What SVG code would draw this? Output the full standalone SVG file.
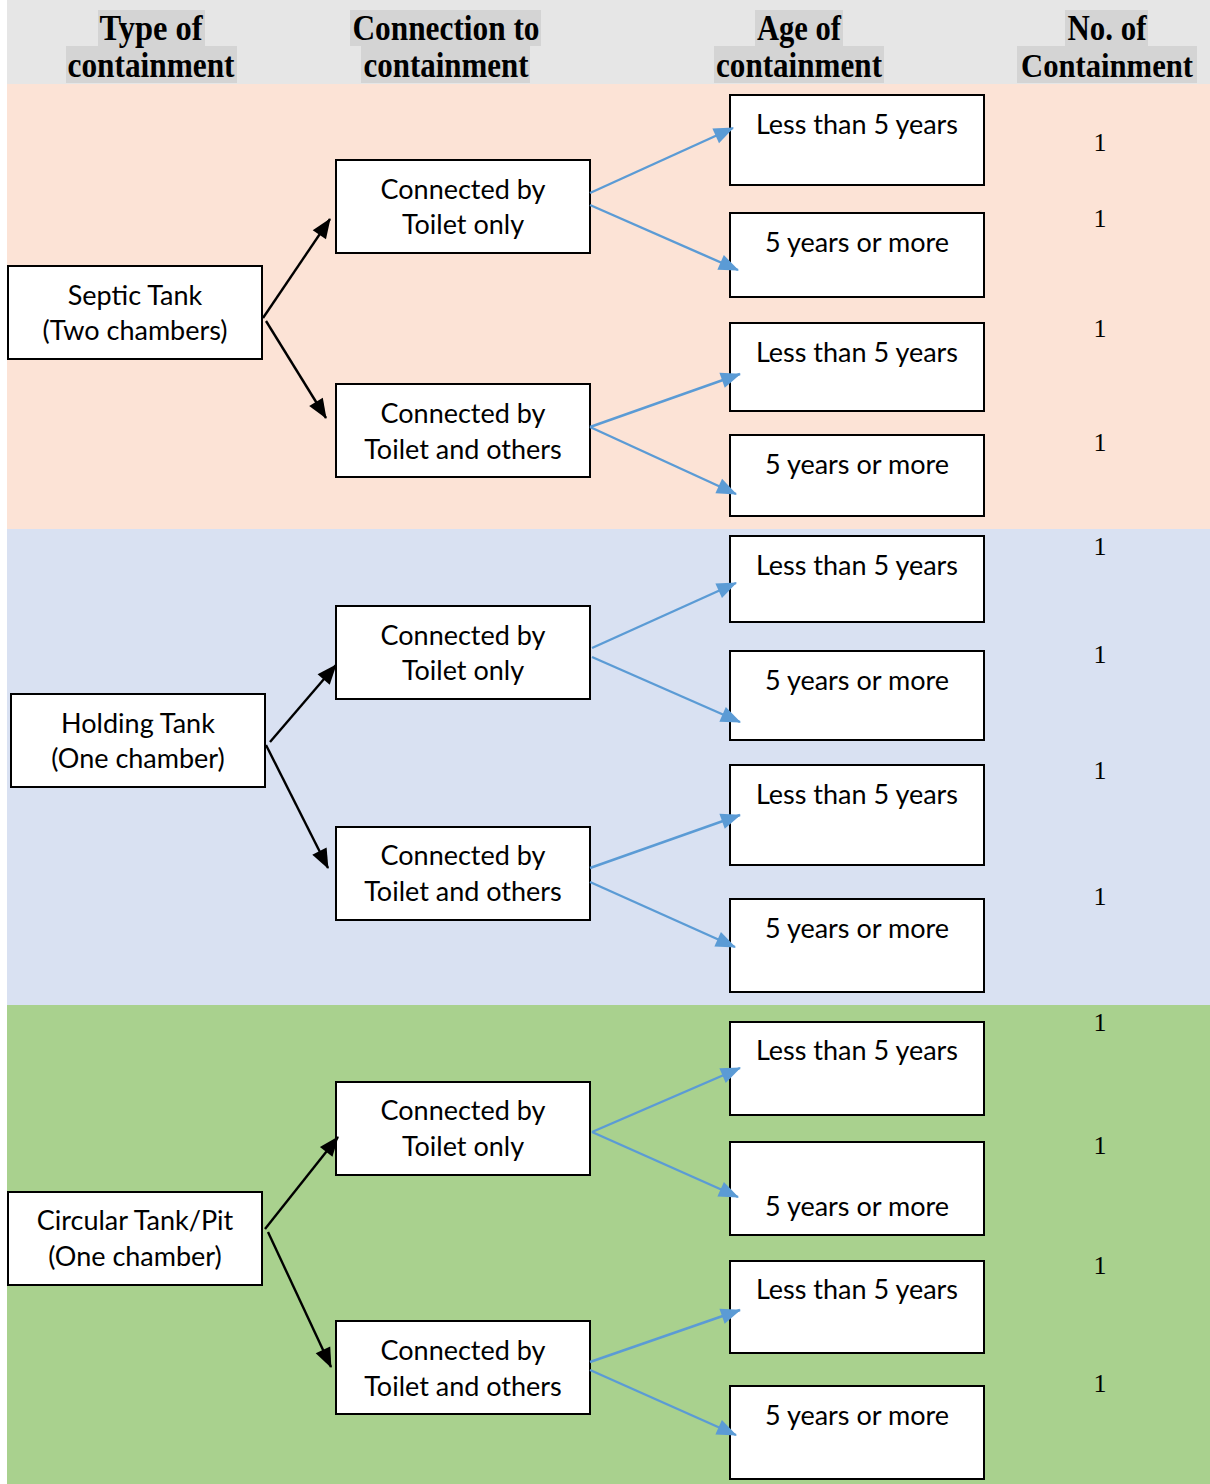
<svg xmlns="http://www.w3.org/2000/svg" width="1210" height="1484" viewBox="0 0 1210 1484">
<style>
.hd{font-family:"Liberation Serif",serif;font-weight:bold;font-size:36px;fill:#000;text-anchor:middle}
.hl{fill:#d4d4d4}
.box{fill:#fff;stroke:#000;stroke-width:2}
.t{font-family:Lato,"Noto Sans",sans-serif;font-size:27px;fill:#000;text-anchor:middle}
.n{font-family:"Liberation Serif",serif;font-size:26px;fill:#000;text-anchor:middle}
.blk{stroke:#000;stroke-width:2.4;fill:none;marker-end:url(#ab)}
.blu{stroke:#5b9bd5;stroke-width:2.4;fill:none;marker-end:url(#au)}
</style>
<defs>
<marker id="ab" viewBox="0 0 20 16" refX="19" refY="8" markerWidth="20" markerHeight="16" markerUnits="userSpaceOnUse" orient="auto" overflow="visible"><path d="M0,0 L20,8 L0,16 z" fill="#000"/></marker>
<marker id="au" viewBox="0 0 20 16" refX="19" refY="8" markerWidth="20" markerHeight="16" markerUnits="userSpaceOnUse" orient="auto" overflow="visible"><path d="M0,0 L20,8 L0,16 z" fill="#5b9bd5"/></marker>
</defs>
<rect x="0" y="0" width="1210" height="1484" fill="#fff"/>
<rect x="7" y="0" width="1203" height="84" fill="#e6e6e6"/>
<rect x="7" y="84" width="1203" height="445" fill="#fce3d6"/>
<rect x="7" y="529" width="1203" height="476" fill="#d9e1f2"/>
<rect x="7" y="1005" width="1203" height="479" fill="#a9d18e"/>

<g id="header">
<rect class="hl" x="98" y="10" width="107" height="36"/>
<rect class="hl" x="66" y="46" width="171" height="37"/>
<rect class="hl" x="350" y="10" width="191" height="36"/>
<rect class="hl" x="361" y="46" width="169" height="37"/>
<rect class="hl" x="755" y="10" width="88" height="36"/>
<rect class="hl" x="714" y="46" width="170" height="37"/>
<rect class="hl" x="1065" y="10" width="83" height="36"/>
<rect class="hl" x="1017" y="46" width="180" height="37"/>
<text class="hd" x="151" y="40" textLength="103" lengthAdjust="spacingAndGlyphs">Type of</text>
<text class="hd" x="151" y="77" textLength="167" lengthAdjust="spacingAndGlyphs">containment</text>
<text class="hd" x="446" y="40" textLength="187" lengthAdjust="spacingAndGlyphs">Connection to</text>
<text class="hd" x="446" y="77" textLength="165" lengthAdjust="spacingAndGlyphs">containment</text>
<text class="hd" x="799" y="40" textLength="84" lengthAdjust="spacingAndGlyphs">Age of</text>
<text class="hd" x="799" y="77" textLength="166" lengthAdjust="spacingAndGlyphs">containment</text>
<text class="hd" x="1107" y="40" textLength="79" lengthAdjust="spacingAndGlyphs">No. of</text>
<text class="hd" x="1107" y="77" style="font-size:34px" textLength="172" lengthAdjust="spacingAndGlyphs">Containment</text>
</g>

<g id="septic"><rect class="box" x="8" y="266" width="254" height="93"/><text class="t" x="135" y="305">Septic Tank</text><text class="t" x="135" y="340">(Two chambers)</text></g>
<g id="holding"><rect class="box" x="11" y="694" width="254" height="93"/><text class="t" x="138" y="733">Holding Tank</text><text class="t" x="138" y="768">(One chamber)</text></g>
<g id="circular"><rect class="box" x="8" y="1192" width="254" height="93"/><text class="t" x="135" y="1230">Circular Tank/Pit</text><text class="t" x="135" y="1266">(One chamber)</text></g>

<g id="c1"><rect class="box" x="336" y="160" width="254" height="93"/><text class="t" x="463" y="199">Connected by</text><text class="t" x="463" y="234">Toilet only</text></g>
<g id="c2"><rect class="box" x="336" y="384" width="254" height="93"/><text class="t" x="463" y="423">Connected by</text><text class="t" x="463" y="459">Toilet and others</text></g>
<g id="c3"><rect class="box" x="336" y="606" width="254" height="93"/><text class="t" x="463" y="645">Connected by</text><text class="t" x="463" y="680">Toilet only</text></g>
<g id="c4"><rect class="box" x="336" y="827" width="254" height="93"/><text class="t" x="463" y="865">Connected by</text><text class="t" x="463" y="901">Toilet and others</text></g>
<g id="c5"><rect class="box" x="336" y="1082" width="254" height="93"/><text class="t" x="463" y="1120">Connected by</text><text class="t" x="463" y="1156">Toilet only</text></g>
<g id="c6"><rect class="box" x="336" y="1321" width="254" height="93"/><text class="t" x="463" y="1360">Connected by</text><text class="t" x="463" y="1396">Toilet and others</text></g>

<g id="a1"><rect class="box" x="730" y="95" width="254" height="90"/><text class="t" x="857" y="134">Less than 5 years</text></g>
<g id="a2"><rect class="box" x="730" y="213" width="254" height="84"/><text class="t" x="857" y="252">5 years or more</text></g>
<g id="a3"><rect class="box" x="730" y="323" width="254" height="88"/><text class="t" x="857" y="362">Less than 5 years</text></g>
<g id="a4"><rect class="box" x="730" y="435" width="254" height="81"/><text class="t" x="857" y="474">5 years or more</text></g>
<g id="a5"><rect class="box" x="730" y="536" width="254" height="86"/><text class="t" x="857" y="575">Less than 5 years</text></g>
<g id="a6"><rect class="box" x="730" y="651" width="254" height="89"/><text class="t" x="857" y="690">5 years or more</text></g>
<g id="a7"><rect class="box" x="730" y="765" width="254" height="100"/><text class="t" x="857" y="804">Less than 5 years</text></g>
<g id="a8"><rect class="box" x="730" y="899" width="254" height="93"/><text class="t" x="857" y="938">5 years or more</text></g>
<g id="a9"><rect class="box" x="730" y="1022" width="254" height="93"/><text class="t" x="857" y="1060">Less than 5 years</text></g>
<g id="a10"><rect class="box" x="730" y="1142" width="254" height="93"/><text class="t" x="857" y="1216">5 years or more</text></g>
<g id="a11"><rect class="box" x="730" y="1261" width="254" height="92"/><text class="t" x="857" y="1299">Less than 5 years</text></g>
<g id="a12"><rect class="box" x="730" y="1386" width="254" height="93"/><text class="t" x="857" y="1425">5 years or more</text></g>

<g id="connectors">
<line class="blk" x1="263" y1="318" x2="330" y2="219"/>
<line class="blk" x1="266" y1="321" x2="326" y2="418"/>
<line class="blk" x1="270" y1="742" x2="336" y2="665"/>
<line class="blk" x1="266" y1="745" x2="328" y2="868"/>
<line class="blk" x1="265" y1="1229" x2="338" y2="1137"/>
<line class="blk" x1="268" y1="1232" x2="331" y2="1367"/>
<line class="blu" x1="590" y1="193" x2="733" y2="128"/>
<line class="blu" x1="590" y1="205" x2="738" y2="270"/>
<line class="blu" x1="590" y1="427" x2="740" y2="374"/>
<line class="blu" x1="590" y1="427" x2="736" y2="494"/>
<line class="blu" x1="592" y1="648" x2="736" y2="583"/>
<line class="blu" x1="592" y1="657" x2="740" y2="722"/>
<line class="blu" x1="590" y1="868" x2="740" y2="815"/>
<line class="blu" x1="590" y1="882" x2="735" y2="947"/>
<line class="blu" x1="592" y1="1132" x2="740" y2="1068"/>
<line class="blu" x1="592" y1="1132" x2="738" y2="1197"/>
<line class="blu" x1="590" y1="1362" x2="740" y2="1310"/>
<line class="blu" x1="590" y1="1370" x2="736" y2="1435"/>
</g>

<g id="counts">
<text class="n" x="1100" y="151">1</text>
<text class="n" x="1100" y="227">1</text>
<text class="n" x="1100" y="337">1</text>
<text class="n" x="1100" y="451">1</text>
<text class="n" x="1100" y="555">1</text>
<text class="n" x="1100" y="663">1</text>
<text class="n" x="1100" y="779">1</text>
<text class="n" x="1100" y="905">1</text>
<text class="n" x="1100" y="1031">1</text>
<text class="n" x="1100" y="1154">1</text>
<text class="n" x="1100" y="1274">1</text>
<text class="n" x="1100" y="1392">1</text>
</g>
</svg>
